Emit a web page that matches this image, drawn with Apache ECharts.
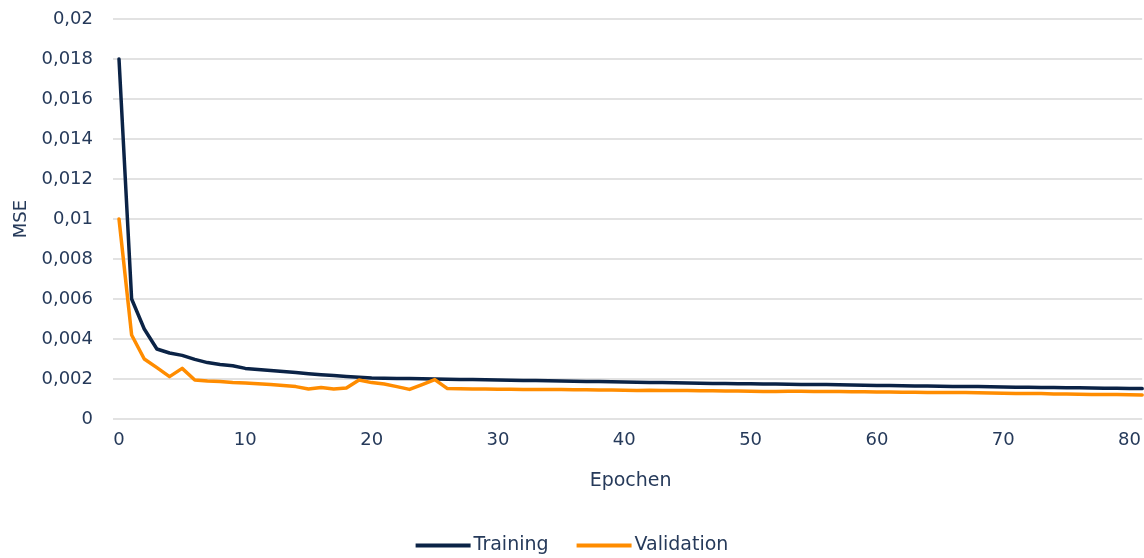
<!DOCTYPE html>
<html>
<head>
<meta charset="utf-8">
<script src="https://cdn.jsdelivr.net/npm/echarts@6/dist/echarts.min.js"></script>
<style>html,body{margin:0;padding:0;background:#fff;}#c{width:1144px;height:558px;}</style>
</head>
<body>
<div id="c"></div>
<script>
const epochs = [];
for (let i = 0; i <= 81; i++) epochs.push(String(i));

const training = [
  0.0180, 0.0060, 0.0045, 0.0035, 0.0033, 0.00318, 0.00298, 0.00282, 0.00273, 0.00266,
  0.00253, 0.00247, 0.00242, 0.00237, 0.00232, 0.00226, 0.00221, 0.00217, 0.00213, 0.00209,
  0.00205, 0.00204, 0.00203, 0.00202, 0.00201, 0.00200, 0.00199, 0.00198, 0.00197, 0.00196,
  0.00195, 0.00194, 0.00193, 0.00192, 0.00191, 0.00190, 0.00189, 0.00188, 0.00187, 0.00186,
  0.00185, 0.00184, 0.00183, 0.00182, 0.00181, 0.00180, 0.00179, 0.00178, 0.00177, 0.00176,
  0.00176, 0.00175, 0.00175, 0.00174, 0.00173, 0.00172, 0.00172, 0.00171, 0.00170, 0.00169,
  0.00168, 0.00167, 0.00166, 0.00165, 0.00165, 0.00164, 0.00163, 0.00162, 0.00162, 0.00161,
  0.00160, 0.00159, 0.00159, 0.00158, 0.00157, 0.00156, 0.00156, 0.00155, 0.00154, 0.00154,
  0.00153, 0.00152
];

const validation = [
  0.0100, 0.0042, 0.0030, 0.00257, 0.00212, 0.00253, 0.00195, 0.00190, 0.00188, 0.00183,
  0.00180, 0.00176, 0.00172, 0.00167, 0.00162, 0.00150, 0.00158, 0.00150, 0.00155, 0.00195,
  0.00182, 0.00175, 0.00162, 0.00148, 0.00172, 0.00197, 0.00152, 0.00151, 0.00150, 0.00150,
  0.00149, 0.00149, 0.00148, 0.00148, 0.00147, 0.00147, 0.00146, 0.00146, 0.00145, 0.00145,
  0.00144, 0.00143, 0.00144, 0.00143, 0.00142, 0.00142, 0.00141, 0.00141, 0.00140, 0.00140,
  0.00139, 0.00138, 0.00138, 0.00139, 0.00139, 0.00138, 0.00137, 0.00137, 0.00136, 0.00136,
  0.00135, 0.00135, 0.00134, 0.00134, 0.00133, 0.00133, 0.00132, 0.00132, 0.00131, 0.00130,
  0.00129, 0.00128, 0.00128, 0.00127, 0.00125, 0.00125, 0.00124, 0.00123, 0.00122, 0.00122,
  0.00121, 0.00120
];

const yTicks = ['0', '0,002', '0,004', '0,006', '0,008', '0,01', '0,012', '0,014', '0,016', '0,018', '0,02'];

const textColor = '#263a5a';
const font = 'DejaVu Sans';

const chart = echarts.init(document.getElementById('c'), null, {renderer: 'canvas'});
chart.setOption({
  animation: false,
  backgroundColor: '#fff',
  textStyle: {fontFamily: font, color: textColor},
  grid: {left: 119, right: 0, top: 19, bottom: 139, containLabel: false},
  legend: {
    bottom: -2,
    left: 'center',
    icon: 'rect',
    itemWidth: 55,
    itemHeight: 4,
    itemGap: 28,
    textStyle: {fontFamily: font, fontSize: 19, color: textColor, padding: [0, 0, 0, -2]},
    data: ['Training', 'Validation']
  },
  xAxis: {
    type: 'category',
    data: epochs,
    boundaryGap: false,
    name: 'Epochen',
    nameLocation: 'middle',
    nameGap: 53,
    nameTextStyle: {fontFamily: font, fontSize: 19, color: textColor},
    axisLine: {show: false},
    axisTick: {show: false},
    axisLabel: {interval: 9, margin: 12, fontFamily: font, fontSize: 18, color: textColor},
    splitLine: {show: false}
  },
  yAxis: {
    type: 'value',
    min: 0,
    max: 0.02,
    interval: 0.002,
    name: 'MSE',
    nameLocation: 'middle',
    nameGap: 86,
    nameTextStyle: {fontFamily: font, fontSize: 18, color: textColor},
    axisLine: {show: false},
    axisTick: {show: true, length: 6, lineStyle: {color: '#d9d9d9', width: 1.5}},
    axisLabel: {
      margin: 26,
      fontFamily: font, fontSize: 18, color: textColor,
      formatter: function (v) { return yTicks[Math.round(v / 0.002)]; }
    },
    splitLine: {show: true, lineStyle: {color: '#d9d9d9', width: 1.5}}
  },
  series: [
    {
      name: 'Training', type: 'line', data: training, symbol: 'none',
      lineStyle: {color: '#0b2346', width: 3.5, cap: 'round', join: 'round'},
      itemStyle: {color: '#0b2346'}
    },
    {
      name: 'Validation', type: 'line', data: validation, symbol: 'none',
      lineStyle: {color: '#ff8c00', width: 3.5, cap: 'round', join: 'round'},
      itemStyle: {color: '#ff8c00'}
    }
  ]
});
</script>
</body>
</html>
